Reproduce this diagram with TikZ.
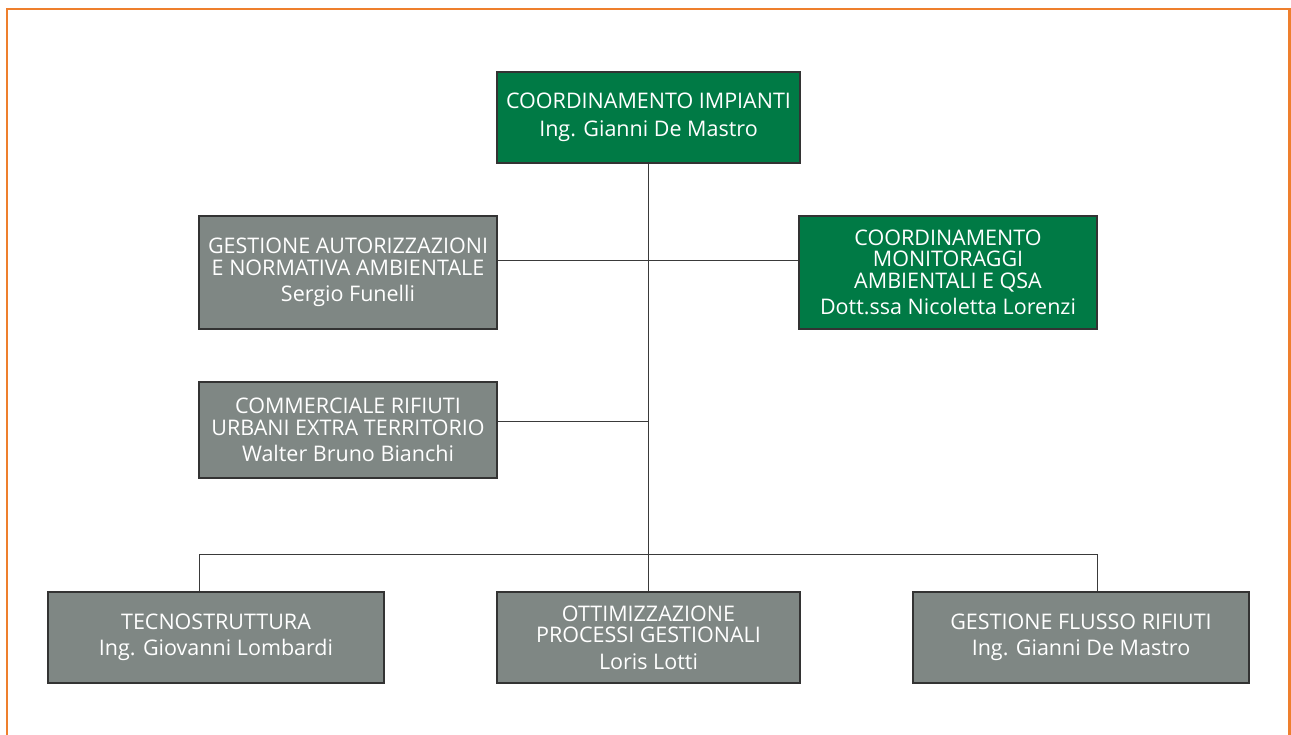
\documentclass[tikz,border=0pt]{standalone}
\usepackage{fontspec}
\setmainfont{Open Sans}
\definecolor{hgreen}{HTML}{007A45}
\definecolor{hgrey}{HTML}{7F8784}
\definecolor{hedge}{HTML}{333333}
\definecolor{horange}{HTML}{EE7F2D}
\definecolor{hline}{HTML}{3A3A3A}
\tikzset{
  orgbox/.style={draw=hedge, line width=1.3pt, text=white, align=center, inner sep=0pt,
    font=\fontsize{21.5}{21.5}\selectfont},
  greenbox/.style={orgbox, fill=hgreen},
  greybox/.style={orgbox, fill=hgrey},
  link/.style={draw=hline, line width=1pt}
}
\newcommand{\nm}{\\[5pt]}
\begin{document}
\begin{tikzpicture}[x=1pt,y=-1pt]
\useasboundingbox (0,0) rectangle (1291,735);
\draw[horange, line width=2.5pt] (7,740) -- (7,9) -- (1289.5,9) -- (1289.5,740);

\node[greenbox, minimum width=303pt, minimum height=91pt] (top) at (648.5,117.5)
  {COORDINAMENTO IMPIANTI\\[7pt] Ing. Gianni De Mastro};
\node[greybox, minimum width=298pt, minimum height=113pt] (ga) at (348,272.5)
  {GESTIONE AUTORIZZAZIONI\\E NORMATIVA AMBIENTALE\nm Sergio Funelli};
\node[greenbox, minimum width=298pt, minimum height=113pt] (mon) at (948,272.5)
  {COORDINAMENTO\\MONITORAGGI\\AMBIENTALI E QSA\nm Dott.ssa Nicoletta Lorenzi};
\node[greybox, minimum width=298pt, minimum height=96pt] (com) at (348,430)
  {COMMERCIALE RIFIUTI\\URBANI EXTRA TERRITORIO\nm Walter Bruno Bianchi};
\node[greybox, minimum width=336pt, minimum height=91pt] (tec) at (216,637.5)
  {TECNOSTRUTTURA\nm Ing. Giovanni Lombardi};
\node[greybox, minimum width=303pt, minimum height=91pt] (ott) at (648.5,637.5)
  {OTTIMIZZAZIONE\\PROCESSI GESTIONALI\nm Loris Lotti};
\node[greybox, minimum width=336pt, minimum height=91pt] (gfr) at (1081,637.5)
  {GESTIONE FLUSSO RIFIUTI\nm Ing. Gianni De Mastro};

\coordinate (bl) at (199,554);
\coordinate (br) at (1097,554);

\draw[link] (top.south) -- (ott.north);
\draw[link] ([yshift=11.5pt]ga.east) -- ([yshift=11.5pt]mon.west);
\draw[link] ([yshift=9pt]com.east) -- ([yshift=9pt]com.east -| top.south);
\draw[link] (tec.north -| bl) -- (bl) -- (br) -- (gfr.north -| br);
\end{tikzpicture}
\end{document}
